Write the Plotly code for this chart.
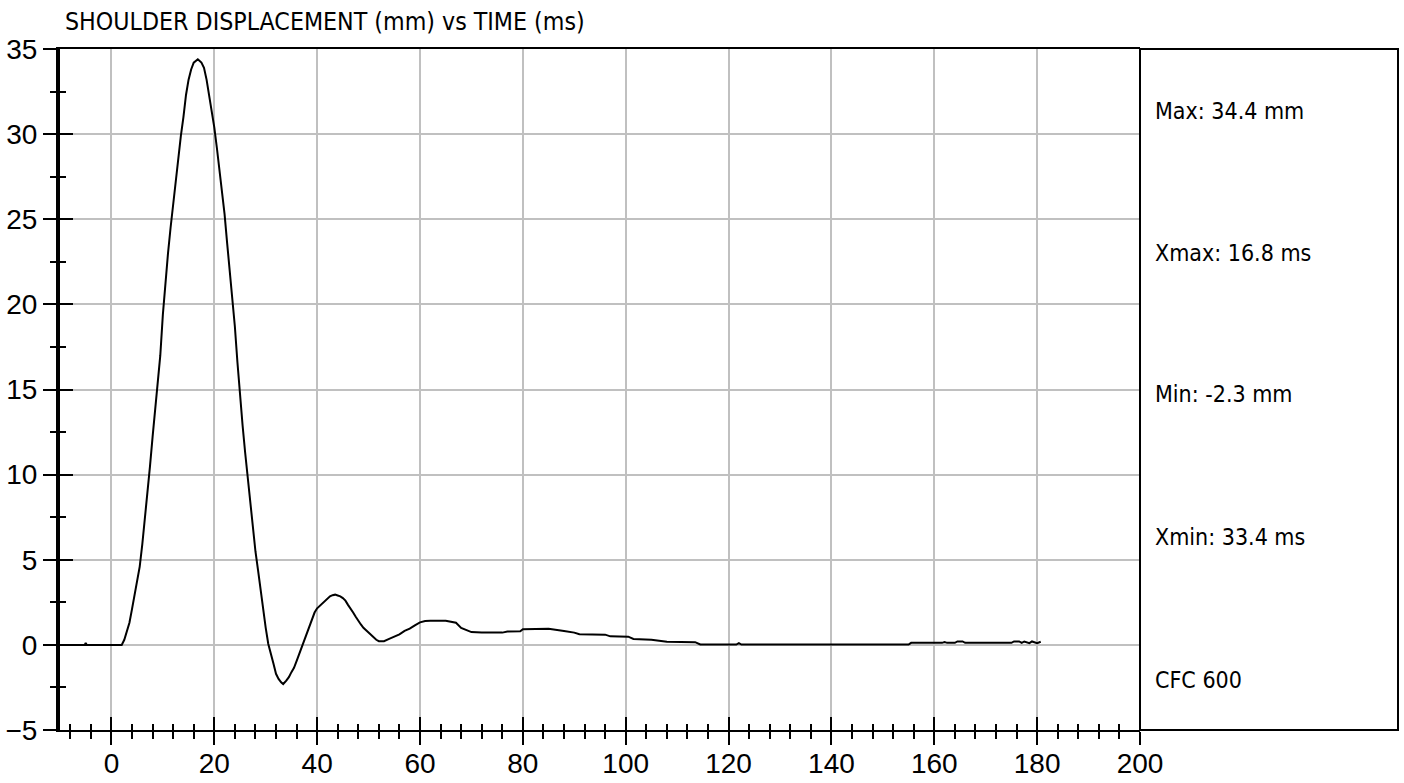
import plotly.graph_objects as go

# ---- data ----
time_ms = [-10, -5.2, -5.0, -4.8, 0, 2.0, 2.5, 3.0, 3.5, 4.0, 4.5, 5.0, 5.5, 6.0, 6.5, 7.0, 7.5,
           8.0, 8.5, 9.0, 9.5, 10.0, 10.5, 11.0, 11.5, 12.0, 12.5, 13.0, 13.5, 14.0, 14.5,
           15.0, 15.5, 16.0, 16.8, 17.5, 18.0, 18.5, 19.0, 19.5, 20.0, 20.5, 21.0, 21.5,
           22.0, 22.5, 23.0, 23.5, 24.0, 24.5, 25.0, 25.5, 26.0, 26.5, 27.0, 27.5, 28.0,
           28.5, 29.0, 29.5, 30.0, 30.5, 31.0, 31.5, 32.0, 32.5, 33.0, 33.4, 34.0, 34.5,
           35.0, 35.5, 36.0, 36.5, 37.0, 37.5, 38.0, 38.5, 39.0, 39.5, 40.0, 40.5, 41.0,
           41.5, 42.0, 42.5, 43.0, 43.5, 44.0, 44.5, 45.0, 45.5, 46.0, 46.5, 47.0, 47.5,
           48.0, 48.5, 49.0, 49.5, 50.0, 50.5, 51.0, 51.5, 52.0, 53.0, 54.0, 55.0, 56.0,
           57.0, 58.0, 59.0, 60.0, 61.0, 62.0, 65.0, 66.0, 67.0, 68.0, 69.0, 70.0, 72.0,
           76.0, 77.0, 79.5, 80.0, 85.0, 88.0, 90.0, 91.0, 96.0, 97.0, 100.5, 101.5, 105.0,
           108.0, 113.5, 114.5, 121.5, 122.0, 122.5, 155.0, 155.5, 161.5, 162.0, 162.5,
           164.0, 164.5, 165.5, 166.0, 175.0, 175.5, 176.5, 177.0, 177.5, 178.5, 179.0,
           180.0, 180.7]
disp_mm = [0, 0, 0.12, 0, 0, 0, 0.3, 0.8, 1.3, 2.1, 2.9, 3.6, 4.6, 5.9, 7.3, 8.9, 10.5,
           12.2, 13.9, 15.4, 17.0, 19.4, 21.3, 23.0, 24.5, 25.9, 27.3, 28.6, 29.9, 31.0, 32.3,
           33.2, 33.8, 34.2, 34.4, 34.2, 33.9, 33.2, 32.3, 31.3, 30.4, 29.2, 28.0, 26.6,
           25.3, 23.6, 22.0, 20.5, 18.7, 16.6, 14.6, 12.9, 11.3, 9.8, 8.2, 6.8, 5.5,
           4.4, 3.2, 2.3, 1.0, 0.05, -0.6, -1.1, -1.7, -2.0, -2.2, -2.3, -2.1, -1.9,
           -1.6, -1.35, -0.95, -0.55, -0.15, 0.3, 0.7, 1.1, 1.55, 1.9, 2.15, 2.3, 2.4,
           2.55, 2.75, 2.85, 2.92, 2.95, 2.9, 2.85, 2.75, 2.6, 2.35, 2.15, 1.9, 1.65,
           1.4, 1.2, 1.0, 0.85, 0.7, 0.55, 0.4, 0.3, 0.22, 0.22, 0.35, 0.5, 0.62,
           0.82, 0.95, 1.15, 1.32, 1.4, 1.42, 1.42, 1.38, 1.3, 1.0, 0.85, 0.75, 0.72,
           0.72, 0.78, 0.8, 0.92, 0.94, 0.82, 0.72, 0.62, 0.6, 0.5, 0.48, 0.35, 0.3,
           0.18, 0.16, 0.02, 0.02, 0.1, 0.02, 0.02, 0.12, 0.12, 0.17, 0.12,
           0.12, 0.2, 0.2, 0.12, 0.12, 0.2, 0.2, 0.12, 0.2, 0.1, 0.2,
           0.1, 0.18]

x_range = [-10, 200]
y_range = [-5, 35]
x_major = 20
x_minor = 4
y_major = 5
y_minor = 2.5

title_text = "SHOULDER DISPLACEMENT (mm) vs TIME (ms)"
stats_text = ["Max: 34.4 mm", "Xmax: 16.8 ms", "Min: -2.3 mm", "Xmin: 33.4 ms", "CFC 600"]

# ---- layout constants ----
W, H = 1404, 783
L, R, T, B = 60, 264, 49, 53
plot_w = W - L - R
plot_h = H - T - B
stats_y_px = [111, 253, 394, 537, 680]

TICK_FONT = dict(family="Liberation Sans, Arial, sans-serif", size=28, color="black")
NARROW = "Liberation Sans Narrow, Arial Narrow, DejaVu Sans Condensed, sans-serif"

fig = go.Figure()
fig.add_trace(go.Scatter(x=time_ms, y=disp_mm, mode="lines",
                         line=dict(color="black", width=2), hoverinfo="skip",
                         showlegend=False))
# same series on overlay axes (invisible) so the crossing tick axes get drawn
fig.add_trace(go.Scatter(x=time_ms, y=disp_mm, mode="lines", xaxis="x2", yaxis="y2",
                         line=dict(color="rgba(0,0,0,0)", width=0), hoverinfo="skip",
                         showlegend=False))

common_x = dict(range=x_range, tick0=0, dtick=x_major, zeroline=False, fixedrange=True,
                automargin=False)
common_y = dict(range=y_range, tick0=0, dtick=y_major, zeroline=False, fixedrange=True,
                automargin=False)

fig.update_layout(
    width=W, height=H,
    margin=dict(l=L, r=R, t=T, b=B, pad=0, autoexpand=False),
    paper_bgcolor="white", plot_bgcolor="white",
    showlegend=False,
    xaxis=dict(**common_x, showgrid=True, gridcolor="#c0c0c0", gridwidth=2,
               showline=True, linecolor="black", linewidth=2, mirror=True,
               ticks="outside", ticklen=13, tickwidth=2, tickcolor="black",
               tickfont=TICK_FONT, ticklabelstandoff=-6,
               minor=dict(ticks="outside", ticklen=7, tickwidth=2, tickcolor="black",
                          tick0=0, dtick=x_minor, showgrid=False)),
    xaxis2=dict(**common_x, overlaying="x", anchor="y", side="bottom",
                showgrid=False, showline=False, showticklabels=False,
                ticks="inside", ticklen=13, tickwidth=2, tickcolor="black",
                minor=dict(ticks="inside", ticklen=6, tickwidth=2, tickcolor="black",
                           tick0=0, dtick=x_minor, showgrid=False)),
    yaxis=dict(**common_y, showgrid=True, gridcolor="#c0c0c0", gridwidth=2,
               showline=True, linecolor="black", linewidth=4,
               ticks="outside", ticklen=13, tickwidth=2, tickcolor="black",
               tickfont=TICK_FONT,
               minor=dict(ticks="outside", ticklen=6, tickwidth=2, tickcolor="black",
                          tick0=0, dtick=y_minor, showgrid=False)),
    yaxis2=dict(**common_y, overlaying="y", anchor="x", side="left",
                showgrid=False, showline=False, showticklabels=False,
                ticks="inside", ticklen=13, tickwidth=2, tickcolor="black",
                minor=dict(ticks="inside", ticklen=6, tickwidth=2, tickcolor="black",
                           tick0=0, dtick=y_minor, showgrid=False)),
)

# stats panel box to the right of the plot
panel_right = (1398 - L) / plot_w
fig.add_shape(type="rect", xref="paper", yref="paper", x0=1, x1=panel_right, y0=0, y1=1,
              line=dict(color="black", width=2), fillcolor="rgba(0,0,0,0)")

for txt, ypx in zip(stats_text, stats_y_px):
    fig.add_annotation(text=txt, xref="paper", yref="paper",
                       x=(1153 - L) / plot_w, y=(H - B - ypx) / plot_h,
                       xanchor="left", yanchor="middle", showarrow=False,
                       font=dict(family=NARROW, size=23, color="black"))

fig.add_annotation(text=title_text, xref="paper", yref="paper",
                   x=(63 - L) / plot_w, y=(H - B - 22) / plot_h,
                   xanchor="left", yanchor="middle", showarrow=False,
                   font=dict(family=NARROW, size=24.7, color="black"))

fig.write_html("out.html", config=dict(displayModeBar=False),
               post_script="document.body.style.margin='0';document.body.style.overflow='hidden';")
